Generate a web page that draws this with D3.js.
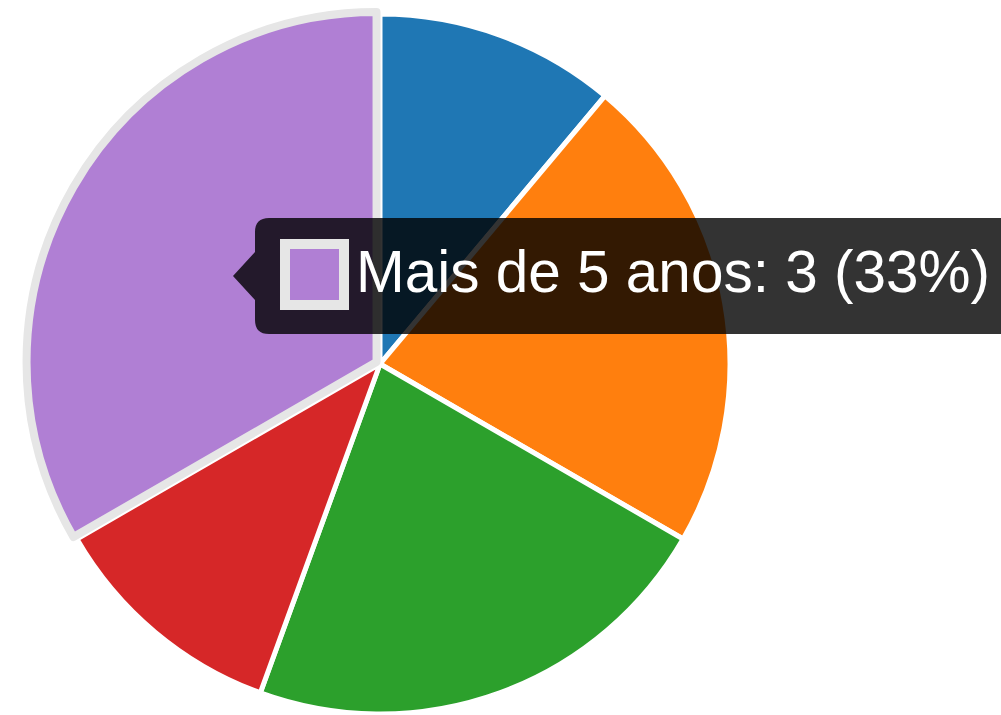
<!DOCTYPE html>
<html>
<head>
<meta charset="utf-8">
<script src="https://cdn.jsdelivr.net/npm/d3@7"></script>
<style>
  html, body { margin: 0; padding: 0; background: #fff; overflow: hidden; }
  svg { display: block; }
</style>
</head>
<body>
<svg id="chart" width="1001" height="715"></svg>
<script>
const categories = ["Menos de 1 ano", "1 a 2 anos", "2 a 3 anos", "3 a 5 anos", "Mais de 5 anos"];
const values = [1, 2, 2, 1, 3];
const colors = ["#1f77b4", "#ff7f0e", "#2ca02c", "#d62728", "#9467bd"];
const hoverColors = ["#1f77b4", "#ff7f0e", "#2ca02c", "#d62728", "#b07fd4"];
const activeIndex = 4;

const W = 1001, H = 715;
const cx = 380, cy = 364, R = 350;
const svg = d3.select("#chart");

const pie = d3.pie().sort(null).value(d => d)(values);
const arc = d3.arc().innerRadius(0).outerRadius(R);

const g = svg.append("g").attr("transform", `translate(${cx},${cy})`);

// non-active slices
g.selectAll("path.slice")
  .data(pie.filter(d => d.index !== activeIndex))
  .join("path")
  .attr("class", "slice")
  .attr("d", arc)
  .attr("fill", d => colors[d.index])
  .attr("stroke", "#ffffff")
  .attr("stroke-width", 5)
  .attr("stroke-linejoin", "round");

// active (hovered) slice with offset and gray border
const act = pie[activeIndex];
const mid = (act.startAngle + act.endAngle) / 2;
const off = 4;
g.append("path")
  .attr("d", arc(act))
  .attr("transform", `translate(${Math.sin(mid) * off},${-Math.cos(mid) * off})`)
  .attr("fill", hoverColors[activeIndex])
  .attr("stroke", "#e6e6e6")
  .attr("stroke-width", 8)
  .attr("stroke-linejoin", "round");

// tooltip
const total = d3.sum(values);
const label = `${categories[activeIndex]}: ${values[activeIndex]} (${Math.round(values[activeIndex] / total * 100)}%)`;

const tip = svg.append("g");
const tx = 255, ty = 218, tw = 760, th = 116, rr = 14;
const tipPath = d3.path();
tipPath.moveTo(tx + rr, ty);
tipPath.lineTo(tx + tw - rr, ty);
tipPath.quadraticCurveTo(tx + tw, ty, tx + tw, ty + rr);
tipPath.lineTo(tx + tw, ty + th - rr);
tipPath.quadraticCurveTo(tx + tw, ty + th, tx + tw - rr, ty + th);
tipPath.lineTo(tx + rr, ty + th);
tipPath.quadraticCurveTo(tx, ty + th, tx, ty + th - rr);
tipPath.lineTo(tx, ty + 82);
tipPath.lineTo(tx - 22, ty + 58);
tipPath.lineTo(tx, ty + 34);
tipPath.lineTo(tx, ty + rr);
tipPath.quadraticCurveTo(tx, ty, tx + rr, ty);
tipPath.closePath();
tip.append("path")
  .attr("d", tipPath.toString())
  .attr("fill", "rgba(0,0,0,0.8)");

tip.append("rect")
  .attr("x", 285).attr("y", 244)
  .attr("width", 59).attr("height", 61)
  .attr("fill", hoverColors[activeIndex])
  .attr("stroke", "#e6e6e6")
  .attr("stroke-width", 10);

tip.append("text")
  .attr("x", 356)
  .attr("y", 292)
  .attr("fill", "#ffffff")
  .attr("font-family", "'Liberation Sans', Arial, sans-serif")
  .attr("font-size", 59)
  .attr("textLength", 634)
  .attr("lengthAdjust", "spacingAndGlyphs")
  .text(label);
</script>
</body>
</html>
